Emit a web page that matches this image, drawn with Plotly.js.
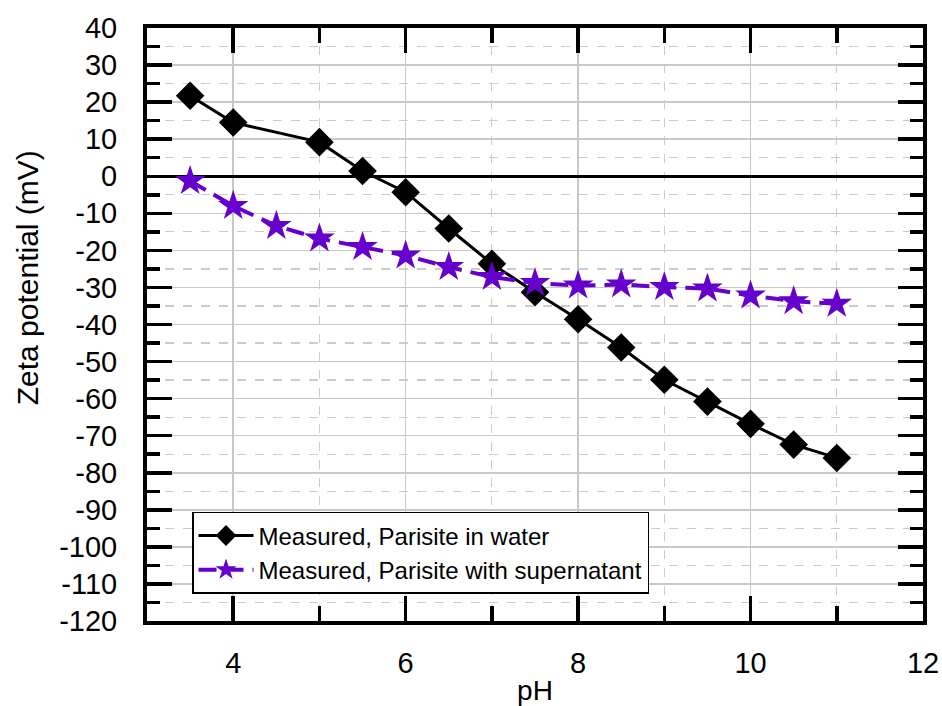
<!DOCTYPE html>
<html>
<head>
<meta charset="utf-8">
<script src="https://cdn.plot.ly/plotly-3.0.1.min.js"></script>
<style>html,body{margin:0;padding:0;background:#fff;}#chart{width:942px;height:706px;}</style>
</head>
<body>
<div id="chart"></div>
<script>
const pHWater = [3.5, 4, 5, 5.5, 6, 6.5, 7, 7.5, 8, 8.5, 9, 9.5, 10, 10.5, 11];
const zetaWater = [21.7, 14.5, 9.2, 1.4, -4.3, -14.1, -23.6, -31.3, -38.6, -46.2, -54.9, -60.8, -66.8, -72.4, -76.0];
const pHSuper = [3.5, 4, 4.5, 5, 5.5, 6, 6.5, 7, 7.5, 8, 8.5, 9, 9.5, 10, 10.5, 11];
const zetaSuper = [-1.3, -8.0, -13.4, -16.8, -19.1, -21.4, -24.5, -27.2, -28.8, -29.5, -29.2, -29.9, -30.3, -32.2, -33.7, -34.4];
const seriesNames = ["Measured, Parisite in water", "Measured, Parisite with supernatant"];
const xTickVals = [4, 6, 8, 10, 12];
const xTickText = ["4", "6", "8", "10", "12"];
const yTickVals = [40, 30, 20, 10, 0, -10, -20, -30, -40, -50, -60, -70, -80, -90, -100, -110, -120];
const yTickText = ["40", "30", "20", "10", "0", "-10", "-20", "-30", "-40", "-50", "-60", "-70", "-80", "-90", "-100", "-110", "-120"];
const xTitle = "pH";
const yTitle = "Zeta potential (mV)";

const FONT = "Liberation Sans, Arial, sans-serif";

const traces = [
  {
    x: pHWater, y: zetaWater, name: seriesNames[0], type: "scatter", mode: "lines+markers",
    line: {color: "#000000", width: 3},
    marker: {symbol: "diamond", size: 22, color: "#000000"}
  },
  {
    x: pHSuper, y: zetaSuper, name: seriesNames[1], type: "scatter", mode: "lines+markers",
    line: {color: "#6600CC", width: 4, dash: "18px,9px"},
    marker: {symbol: "star", size: 23, color: "#6600CC"}
  }
];

const axisCommon = {
  showline: true, linecolor: "#000", linewidth: 4, mirror: "allticks",
  ticks: "inside", ticklen: 25, tickwidth: 3.5, tickcolor: "#000",
  showgrid: true, gridcolor: "#c8c8c8", gridwidth: 1.5,
  tickfont: {family: FONT, size: 29, color: "#000"},
  zeroline: false
};

const layout = {
  width: 942, height: 706,
  margin: {l: 147, r: 19, t: 28, b: 85},
  paper_bgcolor: "#fff", plot_bgcolor: "#fff",
  font: {family: FONT, color: "#000"},
  showlegend: true,
  xaxis: Object.assign({}, axisCommon, {
    range: [3, 12], tickmode: "array", tickvals: xTickVals, ticktext: xTickText,
    ticklabelstandoff: 13,
    minor: {dtick: 1, tick0: 3, ticklen: 15, tickwidth: 3.5, tickcolor: "#000", ticks: "inside",
            showgrid: true, gridcolor: "#cccccc", gridwidth: 1.2, griddash: "dash"},
    title: {text: xTitle, font: {family: FONT, size: 28, color: "#000"}, standoff: 15}
  }),
  yaxis: Object.assign({}, axisCommon, {
    range: [-120, 40], tickmode: "array", tickvals: yTickVals, ticktext: yTickText,
    ticklabelstandoff: 20,
    zeroline: true, zerolinecolor: "#000", zerolinewidth: 3,
    minor: {dtick: 5, tick0: 0, ticklen: 13, tickwidth: 3.5, tickcolor: "#000", ticks: "inside",
            showgrid: true, gridcolor: "#cccccc", gridwidth: 1.2, griddash: "dash"}
  }),
  annotations: [{
    text: yTitle, xref: "paper", yref: "paper", x: -0.1546, y: 0.578,
    xanchor: "center", yanchor: "middle", textangle: -90, showarrow: false,
    font: {family: FONT, size: 30, color: "#000"}
  }],
  legend: {
    x: 0.058, y: 0.184, xanchor: "left", yanchor: "top",
    bgcolor: "#fff", bordercolor: "#000", borderwidth: 1.5,
    font: {family: FONT, size: 24, color: "#000"},
    tracegroupgap: 0, itemwidth: 55
  }
};

Plotly.newPlot("chart", traces, layout, {displayModeBar: false, staticPlot: true});
</script>
</body>
</html>
